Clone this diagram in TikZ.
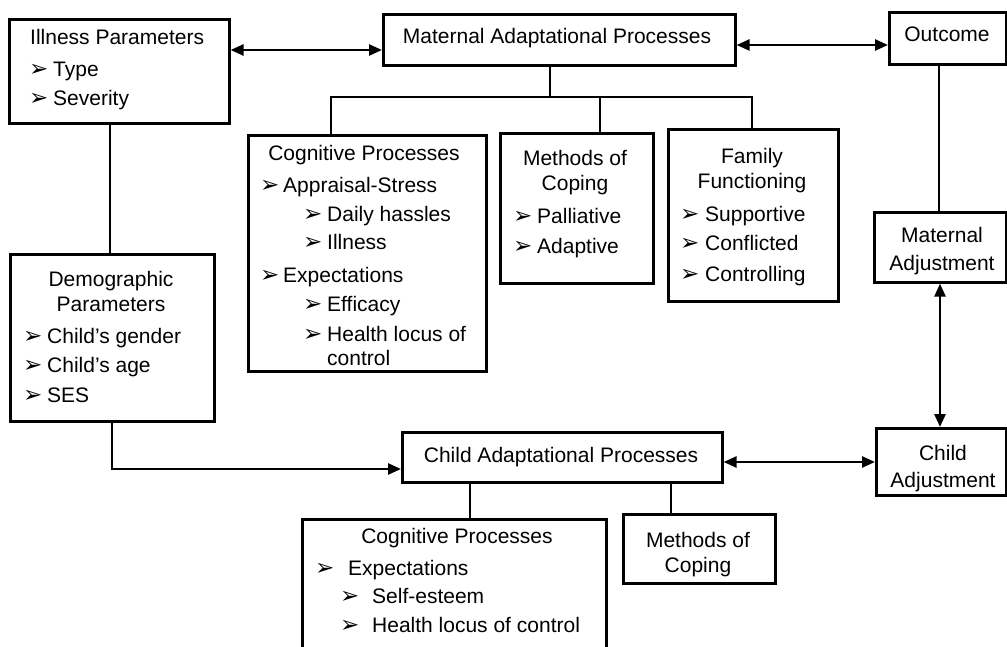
\documentclass[tikz,border=0pt]{standalone}
\usepackage{fontspec}
\setmainfont{Liberation Sans}
\newfontfamily\symfont{DejaVu Sans}
\usetikzlibrary{arrows.meta}

% bullet item: name, bullet x, text x, baseline y, text
\newcommand{\bitem}[5]{%
  \node[bul] (#1b) at (#2,#4) {➢};
  \node[txt] (#1) at (#3,#4) {#5};}

\begin{document}
\begin{tikzpicture}[x=1pt,y=-1pt,
  box/.style={draw, line width=2.6pt, inner sep=0pt, anchor=north west},
  txt/.style={inner sep=0pt, anchor=base west, font=\fontsize{21}{25}\selectfont},
  ctr/.style={inner sep=0pt, anchor=base, font=\fontsize{21}{25}\selectfont},
  bul/.style={inner sep=0pt, anchor=base west, font=\symfont\fontsize{23}{25}\selectfont},
  link/.style={line width=2.6pt},
  tip/.tip={Triangle[length=13pt,width=11pt]},
  dbl/.style={line width=2.6pt, tip-tip},
  one/.style={line width=2.6pt, -tip}]

\useasboundingbox (0,0) rectangle (1007,647);
\clip (0,0) rectangle (1007,647);

% ---- boxes ----
\node[box, minimum width=220pt, minimum height=104pt] (ill)   at (8,18)    {};
\node[box, minimum width=352pt, minimum height=51pt]  (mat)   at (382,13)  {};
\node[box, minimum width=117pt, minimum height=52pt]  (out)   at (888,11)  {};
\node[box, minimum width=238pt, minimum height=236pt] (cog)   at (247,134) {};
\node[box, minimum width=153pt, minimum height=150pt] (meth)  at (499,132) {};
\node[box, minimum width=170pt, minimum height=172pt] (fam)   at (667,128) {};
\node[box, minimum width=132pt, minimum height=70pt]  (madj)  at (873,211) {};
\node[box, minimum width=204pt, minimum height=167pt] (dem)   at (9,253)   {};
\node[box, minimum width=320pt, minimum height=50pt]  (cap)   at (401,431) {};
\node[box, minimum width=130pt, minimum height=67pt]  (cadj)  at (875,427) {};
\node[box, minimum width=304pt, minimum height=150pt] (ccog)  at (301,518) {};
\node[box, minimum width=152pt, minimum height=69pt]  (cmeth) at (622,513) {};

% ---- texts ----
\node[txt] (illT) at (30,45) {Illness Parameters};
\bitem{ill1}{29}{53}{77}{Type}
\bitem{ill2}{29}{53}{106}{Severity}

\node[ctr] (matT) at (557,44) {Maternal Adaptational Processes};
\node[ctr] (outT) at (947,42) {Outcome};

\node[ctr] (cogT) at (364,161) {Cognitive Processes};
\bitem{cog1}{260}{283}{193}{Appraisal-Stress}
\bitem{cog2}{303}{327}{222}{Daily hassles}
\bitem{cog3}{303}{327}{250}{Illness}
\bitem{cog4}{260}{283}{283}{Expectations}
\bitem{cog5}{303}{327}{312}{Efficacy}
\bitem{cog6}{303}{327}{341}{Health locus of}
\node[txt] (cog7) at (327,365) {control};

\node[ctr] (methT1) at (575,166) {Methods of};
\node[ctr] (methT2) at (575,191) {Coping};
\bitem{meth1}{513}{537}{224}{Palliative}
\bitem{meth2}{513}{537}{254}{Adaptive}

\node[ctr] (famT1) at (752,164) {Family};
\node[ctr] (famT2) at (752,189) {Functioning};
\bitem{fam1}{680}{705}{222}{Supportive}
\bitem{fam2}{680}{705}{251}{Conflicted}
\bitem{fam3}{680}{705}{281}{Controlling}

\node[ctr] (madjT1) at (942,243) {Maternal};
\node[ctr] (madjT2) at (942,270) {Adjustment};

\node[ctr] (demT1) at (111,287) {Demographic};
\node[ctr] (demT2) at (111,312) {Parameters};
\bitem{dem1}{23}{47}{343}{Child’s gender}
\bitem{dem2}{23}{47}{372}{Child’s age}
\bitem{dem3}{23}{47}{402}{SES}

\node[ctr] (capT) at (561,462) {Child Adaptational Processes};
\node[ctr] (cadjT1) at (943,460) {Child};
\node[ctr] (cadjT2) at (943,487) {Adjustment};

\node[ctr] (ccogT) at (457,543) {Cognitive Processes};
\bitem{ccog1}{315}{348}{575}{Expectations}
\bitem{ccog2}{340}{372}{603}{Self-esteem}
\bitem{ccog3}{340}{372}{632}{Health locus of control}

\node[ctr] (cmethT1) at (698,547) {Methods of};
\node[ctr] (cmethT2) at (698,572) {Coping};

% ---- connectors ----
\coordinate (ya) at (0,50);
\coordinate (yb) at (0,45);
\draw[dbl] (ill.east |- ya) -- (mat.west |- ya);
\draw[dbl] (mat.east |- yb) -- (out.west |- yb);

% branch from the maternal processes to its three components
\coordinate (bm) at (550,97);
\coordinate (bl) at (331,97);
\coordinate (bc) at (600,97);
\coordinate (br) at (752,97);
\draw[link] (mat.south -| bm) -- (bm);
\draw[link] (cog.north -| bl) -- (bl) -- (br) -- (fam.north -| br);
\draw[link] (bc) -- (meth.north -| bc);

\coordinate (vo) at (939,0);
\coordinate (va) at (940,0);
\draw[link] (out.south -| vo) -- (madj.north -| vo);
\draw[dbl] (madj.south -| va) -- (cadj.north -| va);

\coordinate (vi) at (110,0);
\draw[link] (ill.south -| vi) -- (dem.north -| vi);

\coordinate (dk) at (112,469);
\draw[one] (dem.south -| dk) -- (dk) -- (cap.west |- dk);

\coordinate (yc) at (0,462);
\draw[dbl] (cap.east |- yc) -- (cadj.west |- yc);

\coordinate (vc) at (470,0);
\coordinate (vm) at (671,0);
\draw[link] (cap.south -| vc) -- (ccog.north -| vc);
\draw[link] (cap.south -| vm) -- (cmeth.north -| vm);
\end{tikzpicture}
\end{document}
